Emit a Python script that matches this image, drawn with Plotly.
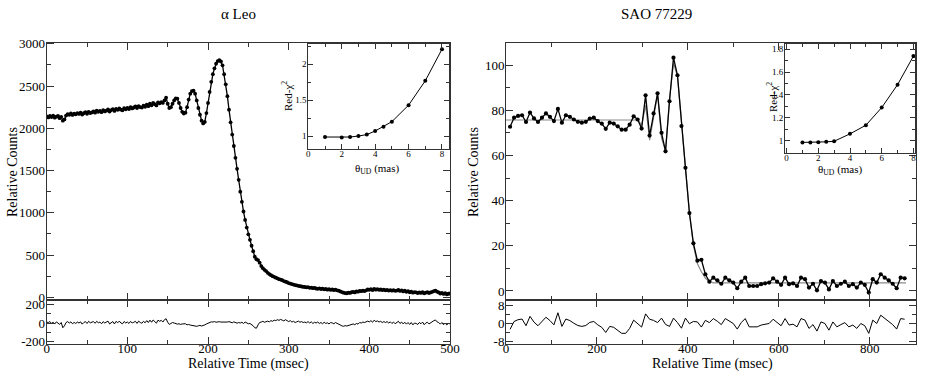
import numpy as np
import plotly.graph_objects as go

FONT = "Liberation Serif, Times New Roman, Times, serif"
W, H = 926, 382
INK = "#333333"

# ---- alpha Leo: occultation light curve, 2 ms samples ----
leo_time = np.arange(0, 501, 2)
leo_counts = [
    2140, 2128, 2145, 2132, 2150, 2126, 2138, 2147, 2120, 2135,
    2090, 2105, 2150, 2168, 2160, 2175, 2158, 2172, 2165, 2180,
    2170, 2185, 2162, 2178, 2190, 2172, 2195, 2180, 2188, 2200,
    2185, 2210, 2195, 2205, 2190, 2215, 2200, 2208, 2222, 2198,
    2215, 2226, 2205, 2230, 2218, 2235, 2220, 2212, 2238, 2225,
    2240, 2228, 2250, 2235, 2246, 2258, 2240, 2262, 2250, 2245,
    2268, 2255, 2280, 2262, 2290, 2272, 2300, 2285, 2270, 2305,
    2295, 2310, 2300, 2330, 2362, 2290, 2240, 2250, 2290, 2330,
    2355, 2350, 2300, 2240, 2195, 2175, 2185, 2250, 2340, 2410,
    2440, 2445, 2410, 2330, 2240, 2160, 2090, 2058, 2075, 2180,
    2300, 2430, 2550, 2640, 2710, 2765, 2795, 2805, 2790, 2745,
    2640, 2520, 2380, 2220, 2070, 1925, 1790, 1650, 1520, 1390,
    1250, 1130, 1015, 915, 825, 745, 680, 610, 545, 480,
    450, 440, 410, 370, 345, 325, 310, 290, 275, 262,
    250, 242, 232, 225, 215, 210, 202, 192, 185, 178,
    168, 162, 156, 150, 145, 140, 136, 132, 128, 124,
    122, 118, 120, 112, 115, 108, 112, 104, 100, 106,
    98, 102, 94, 98, 90, 95, 88, 92, 85, 90,
    82, 78, 70, 62, 55, 50, 48, 55, 52, 60,
    65, 58, 70, 66, 75, 72, 80, 74, 82, 92,
    88, 95, 86, 100, 90, 96, 88, 92, 85, 90,
    82, 88, 80, 85, 78, 84, 76, 80, 88, 75,
    82, 70, 78, 65, 72, 60, 68, 55, 62, 58,
    50, 58, 52, 60, 48, 55, 62, 50, 58, 65,
    72, 80, 66, 58, 45, 52, 40, 48, 36, 42,
    45,
]
leo_resid = [
    10, 5, 15, -5, 8, -10, 12, 3, -15, 5,
    -50, -30, 5, 15, 0, 12, -8, 6, -5, 10,
    0, 12, -12, 5, 15, -5, 18, 2, 8, 15,
    -3, 18, 2, 10, -8, 14, 0, 6, 20, -10,
    8, 15, -10, 18, 2, 20, 0, -8, 16, 0,
    10, -5, 18, 0, 8, 18, -4, 20, 5, -2,
    18, 2, 25, 5, 30, 8, 32, 15, -2, 30,
    18, 28, 10, 35, 45, 8, -15, -5, 5, 0,
    -10, -12, -8, -15, -10, -5, -8, -20, -15, -22,
    -25, -30, -28, -35, -30, -25, -32, -28, -20, -10,
    0, 8, 12, 10, 15, 8, 12, 14, 10, 8,
    12, 5, 10, 15, 8, 2, 12, 6, -2, 5,
    0, 8, -5, 10, 0, -8, -5, -15, -30, -50,
    -55, -20, 5, 10, 18, 8, 15, 20, 12, 25,
    18, 30, 25, 35, 28, 38, 30, 22, 35, 20,
    15, 25, 10, 18, 5, 12, 20, 8, 15, 5,
    10, 2, 15, 0, 12, -5, 8, 0, 10, -5,
    5, -8, 8, -5, 2, -10, 5, 0, -8, 5,
    -5, -15, -25, -30, -35, -28, -32, -25, -20, -15,
    -10, -18, -5, -12, 5, 0, 10, 5, 15, 20,
    12, 25, 8, 30, 15, 22, 10, 18, 5, 15,
    5, 15, 0, 12, -5, 10, -8, 5, 18, -5,
    10, -10, 8, -12, 5, -15, 5, -20, 0, -5,
    -15, 5, -8, 10, -18, 0, 8, -10, 5, 15,
    25, 32, 12, 5, -12, 5, -18, 0, -20, -5,
    -8,
]
assert len(leo_counts) == len(leo_time) == len(leo_resid)

leo_theta = [1, 2, 2.5, 3, 3.5, 4, 4.5, 5, 6, 7, 8]
leo_chi2 = [0.986, 0.98, 0.986, 1.0, 1.02, 1.07, 1.13, 1.2, 1.43, 1.77, 2.21]

# ---- SAO 77229 ----
sao_time = np.linspace(9, 877, 100)
sao_counts = [
    72.7, 76.7, 77.5, 77.8, 74.8, 79.0, 76.4, 74.8, 76.7, 78.6,
    77.1, 75.2, 80.6, 74.5, 77.8, 77.1, 75.9, 74.9, 74.5, 74.9,
    76.3, 76.7, 75.2, 74.1, 71.8, 74.5, 74.1, 72.9, 71.4, 71.4,
    73.6, 77.3, 75.9, 71.9, 86.6, 68.8, 78.6, 87.5, 70.0, 61.8,
    84.0, 103.3, 95.5, 73.0, 54.5, 34.5, 21.1, 13.4, 13.8, 7.4,
    4.1, 5.9, 4.7, 3.2, 5.9, 4.7, 3.7, 1.2, 4.1, 5.9,
    2.2, 2.2, 2.2, 3.0, 3.4, 3.7, 5.6, 4.1, 2.7, 5.9,
    3.0, 3.4, 2.2, 5.9, 5.2, 1.5, 3.2, 0.3, 4.4, 3.7,
    0.7, 4.4, 2.2, 3.2, 4.1, 2.2, 3.0, 1.5, 3.7, 2.7,
    -0.7, 5.2, 3.7, 7.4, 5.9, 4.7, 3.2, 1.2, 5.9, 5.6,
]
sao_resid = [
    -2.5, 1.0, 1.8, 2.1, -0.9, 3.3, 0.7, -0.9, 1.0, 2.9,
    1.4, -0.5, 4.9, -1.2, 2.1, 1.4, 0.2, -0.8, -1.2, -0.8,
    0.6, 1.0, -0.5, -1.6, -3.9, -1.2, -1.6, -2.8, -4.3, -4.3,
    -2.1, 1.6, 0.2, -1.5, 4.4, 2.0, 1.5, 0.5, 2.5, -0.3,
    -1.2, 2.5, 0.5, -2.0, 2.5, 0.0, 1.0, 0.8, -1.5, 1.5,
    0.5, 2.3, 1.1, -0.4, 2.3, 1.1, 0.1, -2.4, 0.5, 2.3,
    -1.4, -1.4, -1.4, -0.6, -0.2, 0.1, 2.0, 0.5, -0.9, 2.3,
    -0.6, -0.2, -1.4, 2.3, 1.6, -2.1, -0.4, -3.3, 0.8, 0.1,
    -2.9, 0.8, -1.4, -0.4, 0.5, -1.4, -0.6, -2.1, 0.1, -0.9,
    -4.3, 1.6, 0.1, 3.8, 2.3, 1.1, -0.4, -2.4, 2.3, 2.0,
]
sao_model_time = [0, 290, 298.4, 307.2, 316.0, 324.7, 333.5, 342.3, 351.0, 359.8, 368.6,
                  377.3, 386.1, 394.9, 403.6, 412.4, 421.2, 429.9, 438.7, 447.5, 456.3, 880]
sao_model = [75.7, 75.7, 73.4, 82.2, 66.8, 77.1, 87.0, 67.5, 62.1, 85.2, 100.8,
             95.0, 75.0, 52.0, 34.5, 20.1, 12.0, 8.5, 5.6, 4.2, 3.6, 3.6]

sao_theta = [1, 1.5, 2, 2.5, 3, 4, 5, 6, 7, 8]
sao_chi2 = [0.985, 0.985, 0.986, 0.99, 0.995, 1.06, 1.135, 1.29, 1.49, 1.74]


def px(x0, x1):
    return [x0 / W, x1 / W]


def py(top, bottom):
    return [1 - bottom / H, 1 - top / H]


def axis(domain, rng, dtick, minor, anchor, labels=True, size=13, ticklen=7, mlen=4, **kw):
    d = dict(domain=domain, range=rng, dtick=dtick, tick0=0, anchor=anchor,
             automargin=False,
             ticks="inside", ticklen=ticklen, tickwidth=1, tickcolor=INK,
             showline=True, linecolor=INK, linewidth=1, mirror="allticks",
             showgrid=False, zeroline=False, showticklabels=labels,
             tickfont=dict(family=FONT, size=size, color="black"),
             minor=dict(dtick=minor, ticks="inside", ticklen=mlen, tickcolor=INK, showgrid=False))
    d.update(kw)
    return d


fig = go.Figure()

# alpha Leo main + residuals
fig.add_trace(go.Scatter(x=leo_time, y=leo_counts, mode="lines+markers",
                         line=dict(color="black", width=1.3),
                         marker=dict(color="black", size=3.8), xaxis="x", yaxis="y"))
fig.add_trace(go.Scatter(x=leo_time, y=leo_resid, mode="lines",
                         line=dict(color="black", width=1), xaxis="x2", yaxis="y2"))
# SAO 77229 main + residuals
fig.add_trace(go.Scatter(x=sao_model_time, y=sao_model, mode="lines",
                         line=dict(color="#8a8a8a", width=1.2), xaxis="x3", yaxis="y3"))
fig.add_trace(go.Scatter(x=sao_time, y=sao_counts, mode="lines+markers",
                         line=dict(color="black", width=1.3),
                         marker=dict(color="black", size=4.2), xaxis="x3", yaxis="y3"))
fig.add_trace(go.Scatter(x=sao_time, y=sao_resid, mode="lines",
                         line=dict(color="black", width=1), xaxis="x4", yaxis="y4"))
# insets
fig.add_trace(go.Scatter(x=leo_theta, y=leo_chi2, mode="lines+markers",
                         line=dict(color="black", width=1),
                         marker=dict(color="black", size=4), xaxis="x5", yaxis="y5"))
fig.add_trace(go.Scatter(x=sao_theta, y=sao_chi2, mode="lines+markers",
                         line=dict(color="black", width=1),
                         marker=dict(color="black", size=4), xaxis="x6", yaxis="y6"))

L = px(46.7, 450)
R = px(506, 916)
main_y = py(42.5, 300)
res_y = py(300, 344.3)

fig.update_layout(
    width=W, height=H, autosize=False, showlegend=False,
    margin=dict(l=0, r=0, t=0, b=0),
    paper_bgcolor="white", plot_bgcolor="white",
    font=dict(family=FONT, color="black"),
    xaxis=axis(L, [0, 500], 100, 50, "y", labels=False),
    yaxis=axis(main_y, [-32, 3015], 500, 250, "x", ticklabelstandoff=-2),
    xaxis2=axis(L, [0, 500], 100, 50, "y2", ticklabelstandoff=-8),
    yaxis2=axis(res_y, [-225, 243], 200, 100, "x2", ticklabelstandoff=-2,
                tickmode="array", tickvals=[-200, 0, 200], ticktext=["-200", "0", "200"]),
    xaxis3=axis(R, [0, 902], 200, 100, "y3", labels=False),
    yaxis3=axis(main_y, [-4, 110], 20, 10, "x3", ticklabelstandoff=-2),
    xaxis4=axis(R, [0, 902], 200, 100, "y4", ticklabelstandoff=-8),
    yaxis4=axis(res_y, [-9.2, 10.6], 8, 4, "x4", ticklabelstandoff=-2,
                tickmode="array", tickvals=[-8, 0, 8], ticktext=["-8", "0", "8"]),
    xaxis5=axis(px(308.3, 449), [0, 8.42], 2, 1, "y5", size=9, ticklen=5, mlen=3,
                ticklabelstandoff=-4),
    yaxis5=axis(py(44, 149.3), [0.815, 2.283], 0.5, 0.25, "x5", size=9, ticklen=5, mlen=3,
                ticklabelstandoff=-1),
    xaxis6=axis(px(785, 915), [-0.1, 8.1], 2, 1, "y6", size=9, ticklen=5, mlen=3,
                ticklabelstandoff=-4),
    yaxis6=axis(py(44, 152.7), [0.895, 1.846], 0.2, 0.1, "x6", size=9, ticklen=5, mlen=3,
                ticklabelstandoff=-1),
)


def label(text, x, y, size=14, angle=0):
    fig.add_annotation(text=text, x=x / W, y=1 - y / H, xref="paper", yref="paper",
                       showarrow=False, textangle=angle, xanchor="center", yanchor="middle",
                       font=dict(family=FONT, size=size, color="black"))


label("α Leo", 238, 14, size=15)
label("SAO 77229", 656, 14, size=15)
label("Relative Counts", 13, 172, angle=-90)
label("Relative Counts", 474, 172, angle=-90)
label("Relative Time (msec)", 248, 364)
label("Relative Time (msec)", 712, 364)
label("Red-χ<sup>2</sup>", 287, 96, size=11, angle=-90)
label("Red-χ<sup>2</sup>", 772, 97, size=11, angle=-90)
label("θ<sub>UD</sub> (mas)", 377, 169, size=11)
label("θ<sub>UD</sub> (mas)", 840, 170, size=11)

# the page body keeps an 8px margin by default; drop it so the figure sits at the corner
fig.write_html("out.html", config={"displayModeBar": False},
               post_script="document.body.style.margin='0';")
